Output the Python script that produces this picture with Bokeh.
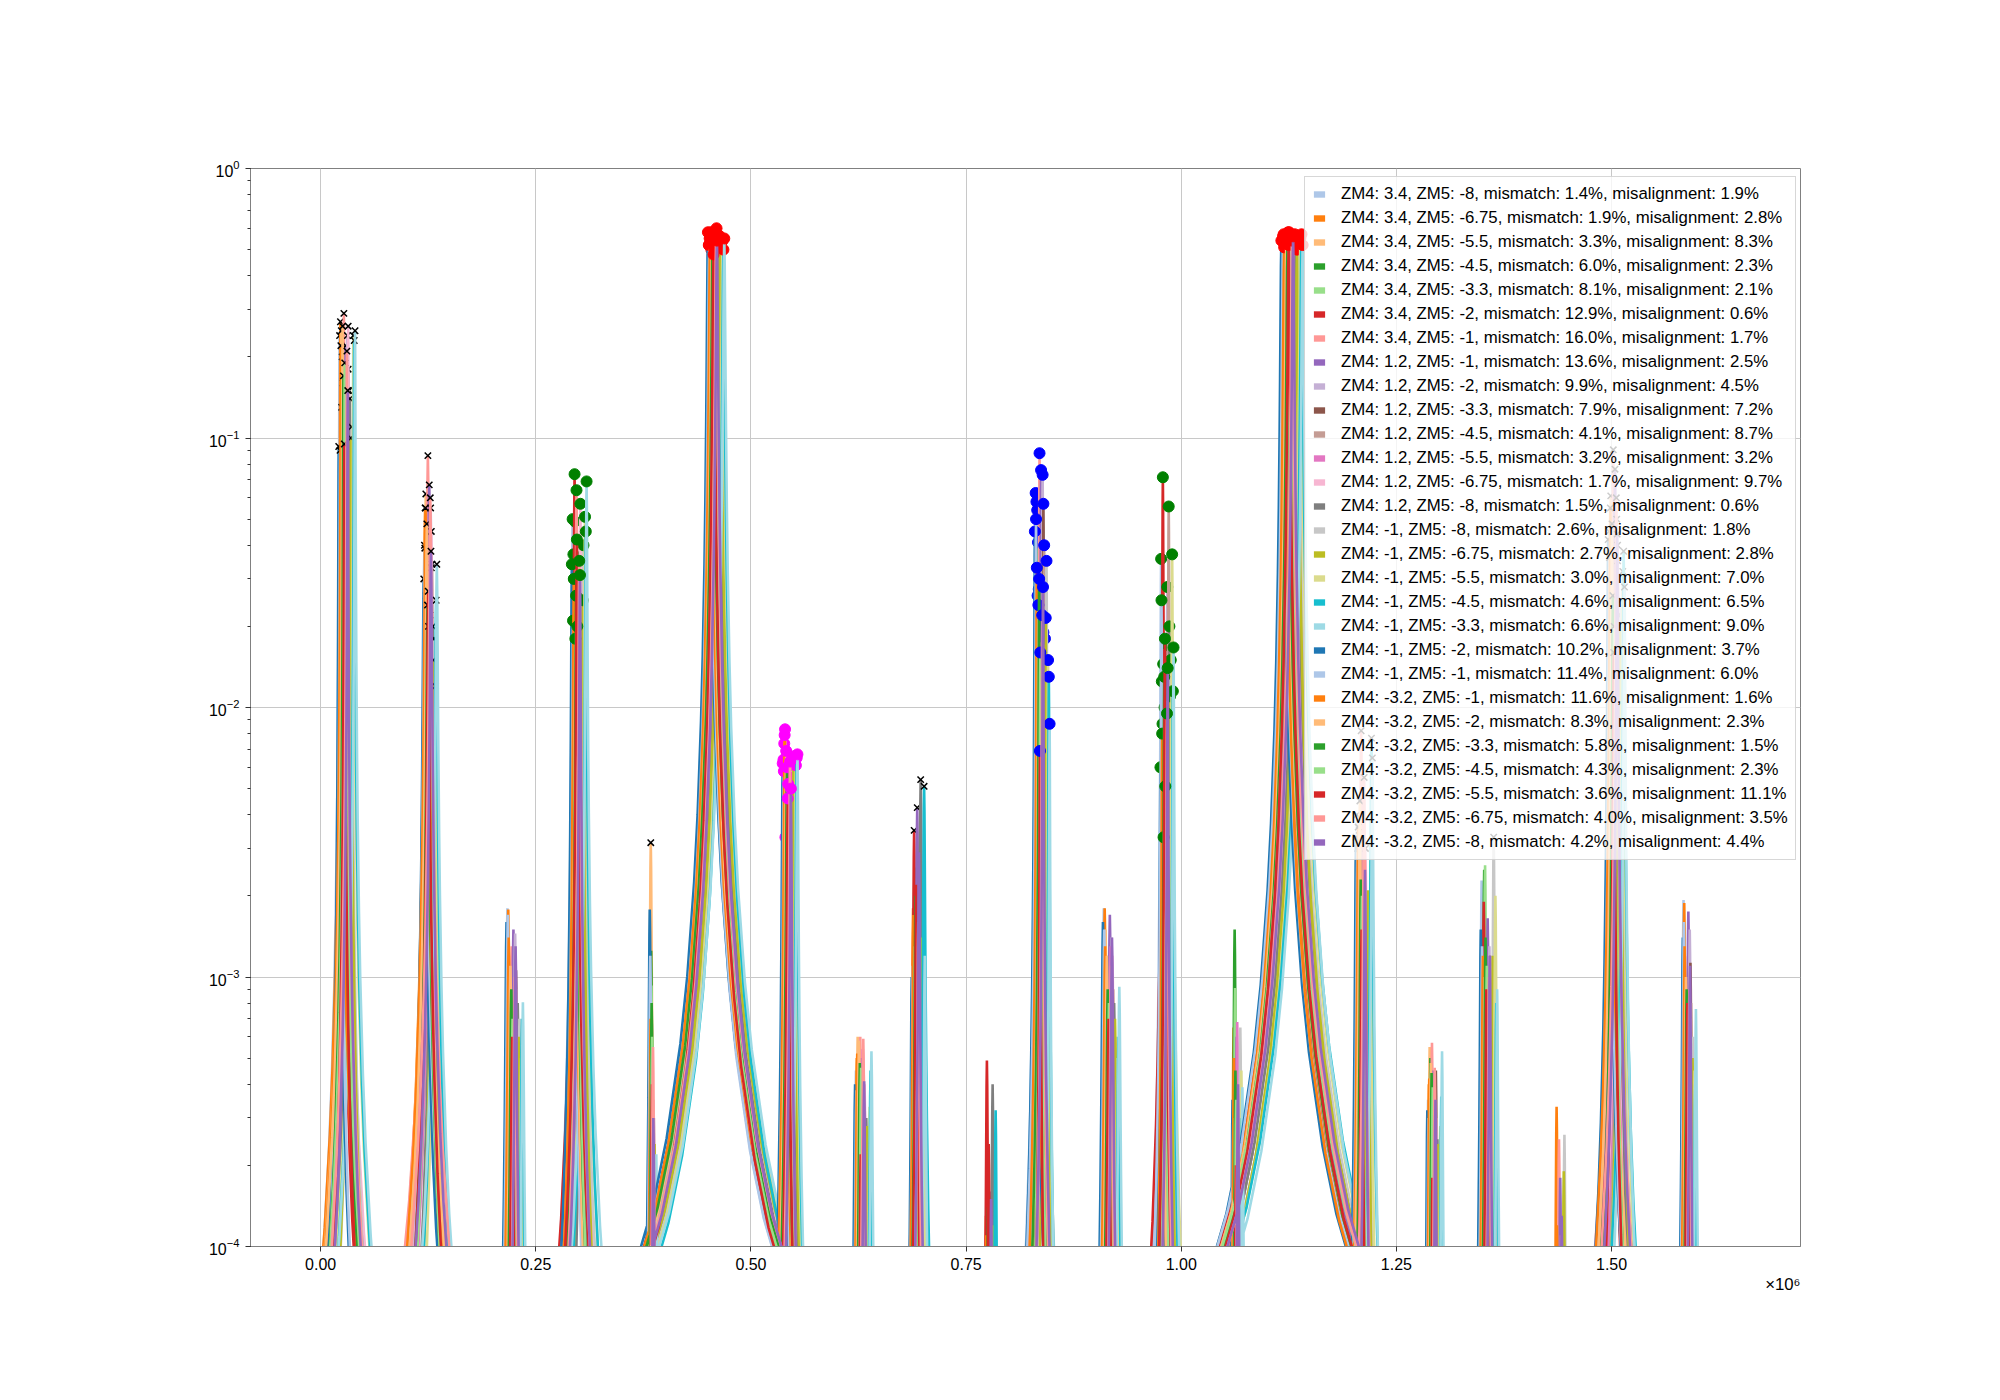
import math
from bokeh.plotting import figure
from bokeh.models import (Range1d, FixedTicker, CustomJSTickFormatter, Legend,
                          LegendItem, Title)
from bokeh.embed import file_html
from bokeh.resources import INLINE

LABELS = [
    "ZM4: 3.4, ZM5: -8, mismatch: 1.4%, misalignment: 1.9%",
    "ZM4: 3.4, ZM5: -6.75, mismatch: 1.9%, misalignment: 2.8%",
    "ZM4: 3.4, ZM5: -5.5, mismatch: 3.3%, misalignment: 8.3%",
    "ZM4: 3.4, ZM5: -4.5, mismatch: 6.0%, misalignment: 2.3%",
    "ZM4: 3.4, ZM5: -3.3, mismatch: 8.1%, misalignment: 2.1%",
    "ZM4: 3.4, ZM5: -2, mismatch: 12.9%, misalignment: 0.6%",
    "ZM4: 3.4, ZM5: -1, mismatch: 16.0%, misalignment: 1.7%",
    "ZM4: 1.2, ZM5: -1, mismatch: 13.6%, misalignment: 2.5%",
    "ZM4: 1.2, ZM5: -2, mismatch: 9.9%, misalignment: 4.5%",
    "ZM4: 1.2, ZM5: -3.3, mismatch: 7.9%, misalignment: 7.2%",
    "ZM4: 1.2, ZM5: -4.5, mismatch: 4.1%, misalignment: 8.7%",
    "ZM4: 1.2, ZM5: -5.5, mismatch: 3.2%, misalignment: 3.2%",
    "ZM4: 1.2, ZM5: -6.75, mismatch: 1.7%, misalignment: 9.7%",
    "ZM4: 1.2, ZM5: -8, mismatch: 1.5%, misalignment: 0.6%",
    "ZM4: -1, ZM5: -8, mismatch: 2.6%, misalignment: 1.8%",
    "ZM4: -1, ZM5: -6.75, mismatch: 2.7%, misalignment: 2.8%",
    "ZM4: -1, ZM5: -5.5, mismatch: 3.0%, misalignment: 7.0%",
    "ZM4: -1, ZM5: -4.5, mismatch: 4.6%, misalignment: 6.5%",
    "ZM4: -1, ZM5: -3.3, mismatch: 6.6%, misalignment: 9.0%",
    "ZM4: -1, ZM5: -2, mismatch: 10.2%, misalignment: 3.7%",
    "ZM4: -1, ZM5: -1, mismatch: 11.4%, misalignment: 6.0%",
    "ZM4: -3.2, ZM5: -1, mismatch: 11.6%, misalignment: 1.6%",
    "ZM4: -3.2, ZM5: -2, mismatch: 8.3%, misalignment: 2.3%",
    "ZM4: -3.2, ZM5: -3.3, mismatch: 5.8%, misalignment: 1.5%",
    "ZM4: -3.2, ZM5: -4.5, mismatch: 4.3%, misalignment: 2.3%",
    "ZM4: -3.2, ZM5: -5.5, mismatch: 3.6%, misalignment: 11.1%",
    "ZM4: -3.2, ZM5: -6.75, mismatch: 4.0%, misalignment: 3.5%",
    "ZM4: -3.2, ZM5: -8, mismatch: 4.2%, misalignment: 4.4%",
]

COLORS = ["#aec7e8", "#ff7f0e", "#ffbb78", "#2ca02c", "#98df8a", "#d62728", "#ff9896",
          "#9467bd", "#c5b0d5", "#8c564b", "#c49c94", "#e377c2", "#f7b6d2", "#7f7f7f",
          "#c7c7c7", "#bcbd22", "#dbdb8d", "#17becf", "#9edae5", "#1f77b4",
          "#aec7e8", "#ff7f0e", "#ffbb78", "#2ca02c", "#98df8a", "#d62728", "#ff9896",
          "#9467bd"]

# relative position of each series inside a peak group
SHIFT = [-0.8, -0.7, -0.6, -0.5, -0.4, -0.55, -0.3, -0.1, 0.1, 0.2, 0.3, 0.0, 0.2, 0.4,
         0.6, 0.5, 0.8, 0.9, 1.0, -0.9, -0.75, -0.65, -0.45, -0.35, -0.2, -0.25, 0.05, 0.15]

# peak groups (x in units of 1e6)
CENTERS = [0.030, 0.127, 0.225, 0.300, 0.386, 0.459, 0.545, 0.630, 0.694, 0.778, 0.838,
           0.918, 0.983, 1.065, 1.128, 1.212, 1.294, 1.357, 1.441, 1.505, 1.590]
SPREAD = [0.010, 0.008, 0.010, 0.009, 0.004, 0.010, 0.009, 0.010, 0.008, 0.007, 0.009,
          0.010, 0.008, 0.006, 0.013, 0.010, 0.009, 0.010, 0.007, 0.010, 0.008]
WIDTH = [0.00038, 0.0009, 0.0010, 0.00065, 0.0008, 0.0010, 0.0008, 0.0010, 0.0008, 0.0008,
         0.00045, 0.0010, 0.0005, 0.0008, 0.0010, 0.0008, 0.0008, 0.0008, 0.0008, 0.0007, 0.0008]
MARKER_KIND = ["x", "x", "x", "g", "x", "r", "m", "x", "x", "x", "b",
               "x", "g", "x", "r", "x", "x", "x", "x", "x", "x"]

H01 = [0.24, 0.27, 0.25, 0.20, 0.16, 0.13, 0.29, 0.22, 0.24, 0.18, 0.15, 0.12, 0.26, 0.14,
       0.11, 0.10, 0.24, 0.23, 0.25, 0.093, 0.09, 0.22, 0.26, 0.17, 0.19, 0.095, 0.21, 0.15]
H02 = [0.040, 0.055, 0.062, 0.028, 0.030, 0.026, 0.086, 0.067, 0.055, 0.033, 0.034, 0.022,
       0.045, 0.020, 0.018, 0.015, 0.012, 0.025, 0.034, 0.030, 0.039, 0.055, 0.048, 0.024,
       0.020, 0.027, 0.060, 0.038]
H03 = [1.8e-3, 1.78e-3, 1.2e-3, 9e-4, 1.0e-3, 8e-4, 1.3e-3, 1.5e-3, 1.45e-3, 1.06e-3, 7e-4,
       6e-4, 9e-4, 8e-4, 7e-4, 6e-4, 5e-4, 7e-4, 8.05e-4, 1.6e-3, 1.7e-3, 1.4e-3, 1.1e-3,
       9e-4, 7e-4, 6e-4, 1.0e-3, 1.3e-3]
H04 = [0.050, 0.037, 0.030, 0.049, 0.030, 0.0734, 0.064, 0.022, 0.013, 0.0117, 0.0156,
       0.028, 0.057, 0.0095, 0.040, 0.025, 0.051, 0.045, 0.069, 0.034, 0.021, 0.030, 0.018,
       0.026, 0.020, 0.042, 0.035, 0.031]
H05 = [6e-4, 8e-4, 3.15e-3, 1.25e-3, 9.3e-4, 4.5e-4, 6.7e-4, 3e-4, 2.5e-4, 2e-4, 3e-4,
       2.2e-4, 3.5e-4, 2e-4, 1.8e-4, 2.4e-4, 2e-4, 1.6e-4, 2.2e-4, 1.78e-3, 1.2e-3, 7e-4,
       5e-4, 8e-4, 6e-4, 4e-4, 5.5e-4, 3e-4]
H06 = [0.52, 0.55, 0.57, 0.50, 0.53, 0.58, 0.56, 0.54, 0.60, 0.52, 0.49, 0.55, 0.57, 0.51,
       0.53, 0.56, 0.54, 0.50, 0.55, 0.58, 0.52, 0.56, 0.53, 0.57, 0.51, 0.48, 0.55, 0.54]
H07 = [6.4e-3, 7.35e-3, 8.3e-3, 6.1e-3, 6.5e-3, 3.3e-3, 6.7e-3, 4.3e-3, 5.9e-3, 6.2e-3,
       6.0e-3, 3.8e-3, 6.3e-3, 5.5e-3, 6.6e-3, 6.4e-3, 6.1e-3, 6.5e-3, 6.7e-3, 6.2e-3,
       5.8e-3, 7.9e-3, 6.9e-3, 6.0e-3, 5.2e-3, 4.6e-3, 6.3e-3, 5.0e-3]
H08 = [4.5e-4, 5e-4, 6e-4, 4.7e-4, 4.2e-4, 1.9e-4, 6e-4, 5e-4, 4.4e-4, 3.5e-4, 3e-4, 5.4e-4,
       4e-4, 3e-4, 2.5e-4, 2.8e-4, 3.3e-4, 4.5e-4, 5.3e-4, 4e-4, 3.8e-4, 5.2e-4, 5.8e-4,
       4.8e-4, 4.6e-4, 2.2e-4, 5.9e-4, 4.1e-4]
H09 = [1.0e-3, 1.8e-3, 9e-4, 2.55e-3, 1.2e-3, 3.5e-3, 9.5e-4, 4.25e-3, 1.5e-3, 2.4e-3,
       1.1e-3, 8e-4, 1.3e-3, 5.4e-3, 1.0e-3, 1.4e-3, 9e-4, 5.1e-3, 1.2e-3, 1.0e-3, 1.1e-3,
       1.7e-3, 1.3e-3, 2.0e-3, 1.0e-3, 2.2e-3, 1.6e-3, 2.9e-3]
H10 = [8e-5, 1.3e-4, 7e-5, 1.9e-4, 9e-5, 4.9e-4, 8e-5, 1.6e-4, 6e-5, 9e-5, 5e-5, 7e-5,
       6e-5, 4e-4, 8e-5, 1.2e-4, 6e-5, 3.2e-4, 9e-5, 7e-5, 6e-5, 1.1e-4, 8e-5, 1.4e-4, 9e-5,
       2.4e-4, 7e-5, 1.5e-4]
H11 = [0.0625, 0.058, 0.054, 0.041, 0.0275, 0.026, 0.0878, 0.076, 0.073, 0.057, 0.040,
       0.0205, 0.019, 0.018, 0.035, 0.0215, 0.015, 0.013, 0.0087, 0.045, 0.050, 0.033,
       0.024, 0.030, 0.016, 0.0069, 0.022, 0.028]
H12 = [1.8e-3, 1.8e-3, 1.5e-3, 1.1e-3, 9e-4, 8e-4, 1.2e-3, 1.7e-3, 1.4e-3, 1.0e-3, 9e-4,
       1.3e-3, 1.2e-3, 8e-4, 6e-4, 7e-4, 5e-4, 6e-4, 9.2e-4, 1.6e-3, 1.5e-3, 1.3e-3, 1.2e-3,
       9e-4, 8e-4, 7e-4, 1.1e-3, 1.4e-3]
H13 = [0.0356, 0.0125, 0.0087, 0.0145, 0.0061, 0.0715, 0.0100, 0.0052, 0.0280, 0.0170,
       0.0557, 0.0090, 0.0120, 0.0200, 0.0150, 0.0110, 0.037, 0.0115, 0.0167, 0.0060,
       0.0250, 0.0080, 0.0033, 0.0130, 0.0051, 0.0180, 0.0095, 0.0140]
H14 = [3e-4, 6.5e-4, 4e-4, 1.5e-3, 9.1e-4, 3e-4, 4e-4, 6e-4, 3e-4, 2.5e-4, 2e-4, 6.8e-4,
       3e-4, 2e-4, 6.5e-4, 2.5e-4, 4.5e-4, 3e-4, 3.9e-4, 3.5e-4, 3e-4, 5e-4, 3e-4, 4.5e-4,
       3.5e-4, 2e-4, 3e-4, 4e-4]
H15 = [0.54, 0.57, 0.52, 0.55, 0.50, 0.56, 0.58, 0.53, 0.55, 0.51, 0.57, 0.54, 0.52, 0.56,
       0.53, 0.50, 0.55, 0.57, 0.52, 0.54, 0.56, 0.51, 0.55, 0.53, 0.58, 0.52, 0.54, 0.56]
H16 = [4e-3, 3e-3, 2.5e-3, 3.5e-3, 2.8e-3, 2e-3, 8.2e-3, 3.2e-3, 2.6e-3, 2.2e-3, 1.8e-3,
       2.4e-3, 3.0e-3, 1.6e-3, 1.9e-3, 2.1e-3, 2.7e-3, 7.7e-3, 6.5e-3, 3.3e-3, 2.9e-3,
       3.6e-3, 4.5e-3, 2.3e-3, 2.0e-3, 1.5e-3, 5.5e-3, 2.5e-3]
H17 = [3.5e-4, 4e-4, 5.5e-4, 5e-4, 4.2e-4, 2e-4, 5.7e-4, 4.5e-4, 3.8e-4, 4.5e-4, 3e-4,
       3.4e-4, 3e-4, 2.5e-4, 2.2e-4, 2.4e-4, 2.8e-4, 3.6e-4, 5.3e-4, 3.2e-4, 3e-4, 4.2e-4,
       4.8e-4, 4.4e-4, 3.9e-4, 1.8e-4, 4.6e-4, 3.5e-4]
H18 = [2.28e-3, 1.4e-3, 1.6e-3, 2.5e-3, 2.6e-3, 1.9e-3, 1.1e-3, 1.65e-3, 1.3e-3, 1.2e-3,
       9e-4, 1.0e-3, 1.1e-3, 9e-4, 3.3e-3, 1.2e-3, 2.0e-3, 8e-4, 9e-4, 1.5e-3, 1.3e-3,
       1.2e-3, 1.0e-3, 1.4e-3, 1.1e-3, 9e-4, 1.0e-3, 1.2e-3]
H19 = [7e-5, 3.3e-4, 8e-5, 6e-5, 7e-5, 9e-5, 2.5e-4, 1.8e-4, 8e-5, 7e-5, 6e-5, 9e-5, 7e-5,
       8e-5, 2.6e-4, 1.9e-4, 8e-5, 6e-5, 7e-5, 8e-5, 6e-5, 1.2e-4, 7e-5, 8e-5, 6e-5, 9e-5,
       1.1e-4, 1.3e-4]
H20 = [0.045, 0.038, 0.061, 0.030, 0.027, 0.022, 0.0904, 0.0766, 0.050, 0.035, 0.022,
       0.018, 0.040, 0.015, 0.025, 0.020, 0.032, 0.038, 0.028, 0.042, 0.036, 0.055, 0.048,
       0.026, 0.020, 0.016, 0.060, 0.044]
H21 = [1.93e-3, 1.88e-3, 1.2e-3, 9e-4, 8e-4, 1.0e-3, 7e-4, 1.75e-3, 1.5e-3, 1.13e-3, 8e-4,
       6e-4, 7e-4, 5.8e-4, 6e-4, 5e-4, 4.5e-4, 4e-4, 7.6e-4, 1.4e-3, 1.6e-3, 1.3e-3, 1.0e-3,
       9e-4, 7e-4, 8e-4, 9e-4, 1.1e-3]
HEIGHTS = [H01, H02, H03, H04, H05, H06, H07, H08, H09, H10, H11, H12, H13, H14, H15, H16,
           H17, H18, H19, H20, H21]

# normalised line shape of one peak (offset in peak widths, fraction of the height)
PROFILE_M = [-160, -96, -64, -48, -32, -24, -16, -12, -8, -6, -4, -3, -2, -1.5, -1, -0.5,
             0, 0.5, 1, 1.5, 2, 3, 4, 6, 8, 12, 16, 24, 32, 48, 64, 96, 160]
PROFILE_F = [3.9e-5, 1.085e-4, 2.44e-4, 4.34e-4, 9.75e-4, 1.733e-3, 3.89e-3, 6.9e-3,
             0.01538, 0.02703, 0.05882, 0.1, 0.2, 0.3077, 0.5, 0.8,
             1.0, 0.8, 0.5, 0.3077, 0.2, 0.1, 0.05882, 0.02703, 0.01538, 6.9e-3, 3.89e-3,
             1.733e-3, 9.75e-4, 4.34e-4, 2.44e-4, 1.085e-4, 3.9e-5]
MARK_THRESHOLD = 3e-3
X_TICKS = [0, 0.25e6, 0.5e6, 0.75e6, 1.0e6, 1.25e6, 1.5e6]

MARK_COLOR = {"g": "#008000", "r": "#ff0000", "m": "#ff00ff", "b": "#0000ff"}
FONT = "Liberation Sans"
FS = "16.8px"
TICK_FS = "16px"
SPINE = "#808080"

p = figure(frame_width=1550, frame_height=1078, min_border_left=250, min_border_right=184,
           min_border_top=168, min_border_bottom=138, y_axis_type="log",
           x_range=Range1d(-81500, 1719500), y_range=Range1d(1e-4, 1.0),
           output_backend="svg", toolbar_location=None, background_fill_color="white",
           border_fill_color="white")

p.outline_line_color = SPINE
p.outline_line_width = 1
p.grid.grid_line_color = "#c8c8c8"
p.grid.grid_line_width = 1

p.xaxis.ticker = FixedTicker(ticks=X_TICKS)
p.xaxis.formatter = CustomJSTickFormatter(code="return (tick/1e6).toFixed(2);")
for ax in (p.xaxis[0], p.yaxis[0]):
    ax.axis_line_color = SPINE
    ax.major_tick_line_color = "#333333"
    ax.minor_tick_line_color = "#333333"
    ax.major_tick_out = 5
    ax.major_tick_in = 0
    ax.minor_tick_out = 3
    ax.minor_tick_in = 0
    ax.major_label_text_font = FONT
    ax.major_label_text_font_size = TICK_FS
    ax.major_label_text_color = "#000000"
    ax.major_label_standoff = 6
p.xaxis.minor_tick_line_color = None

legend_renderers = []
for i in range(len(LABELS)):
    xs, ys = [], []
    for k in range(len(CENTERS)):
        x0 = (CENTERS[k] + SHIFT[i] * SPREAD[k]) * 1e6
        g = WIDTH[k] * 1e6
        h = HEIGHTS[k][i]
        xs += [x0 + m * g for m in PROFILE_M] + [float("nan")]
        ys += [h * f for f in PROFILE_F] + [float("nan")]
    p.line(xs, ys, line_color=COLORS[i], line_width=2.6)
    # peak markers of this series
    cx, cy, col, xx, xy = [], [], [], [], []
    for k in range(len(CENTERS)):
        h = HEIGHTS[k][i]
        if h < MARK_THRESHOLD:
            continue
        x0 = (CENTERS[k] + SHIFT[i] * SPREAD[k]) * 1e6
        if MARKER_KIND[k] == "x":
            xx.append(x0); xy.append(h)
        else:
            cx.append(x0); cy.append(h); col.append(MARK_COLOR[MARKER_KIND[k]])
    if cx:
        p.scatter(cx, cy, marker="circle", size=11, fill_color=col, line_color=col)
    if xx:
        p.scatter(xx, xy, marker="x", size=9, line_color="black", line_width=1.5)
    # zero-area patch at the first peak, only used as the legend swatch
    x0 = (CENTERS[0] + SHIFT[i] * SPREAD[0]) * 1e6
    h0 = HEIGHTS[0][i]
    r = p.quad(left=[x0], right=[x0], top=[h0], bottom=[h0],
               fill_color=COLORS[i], line_color=None)
    legend_renderers.append(r)

items = [LegendItem(label=LABELS[i], renderers=[legend_renderers[i]])
         for i in range(len(LABELS))]

legend = Legend(items=items, location=(1054, 386), orientation="vertical")
legend.label_text_font = FONT
legend.label_text_font_size = FS
legend.label_text_color = "#000000"
legend.glyph_width = 14
legend.glyph_height = 8
legend.label_height = 8
legend.label_standoff = 15
legend.spacing = 4
legend.padding = 7
legend.margin = 0
legend.border_line_color = "#b0b0b0"
legend.border_line_width = 1
legend.background_fill_alpha = 0.8
p.add_layout(legend)

p.add_layout(Title(text="×10⁶", align="right", text_font=FONT, text_font_size=FS,
                   text_font_style="normal", text_color="#000000", standoff=0), "below")

open("out.html", "w").write(file_html(p, INLINE))
